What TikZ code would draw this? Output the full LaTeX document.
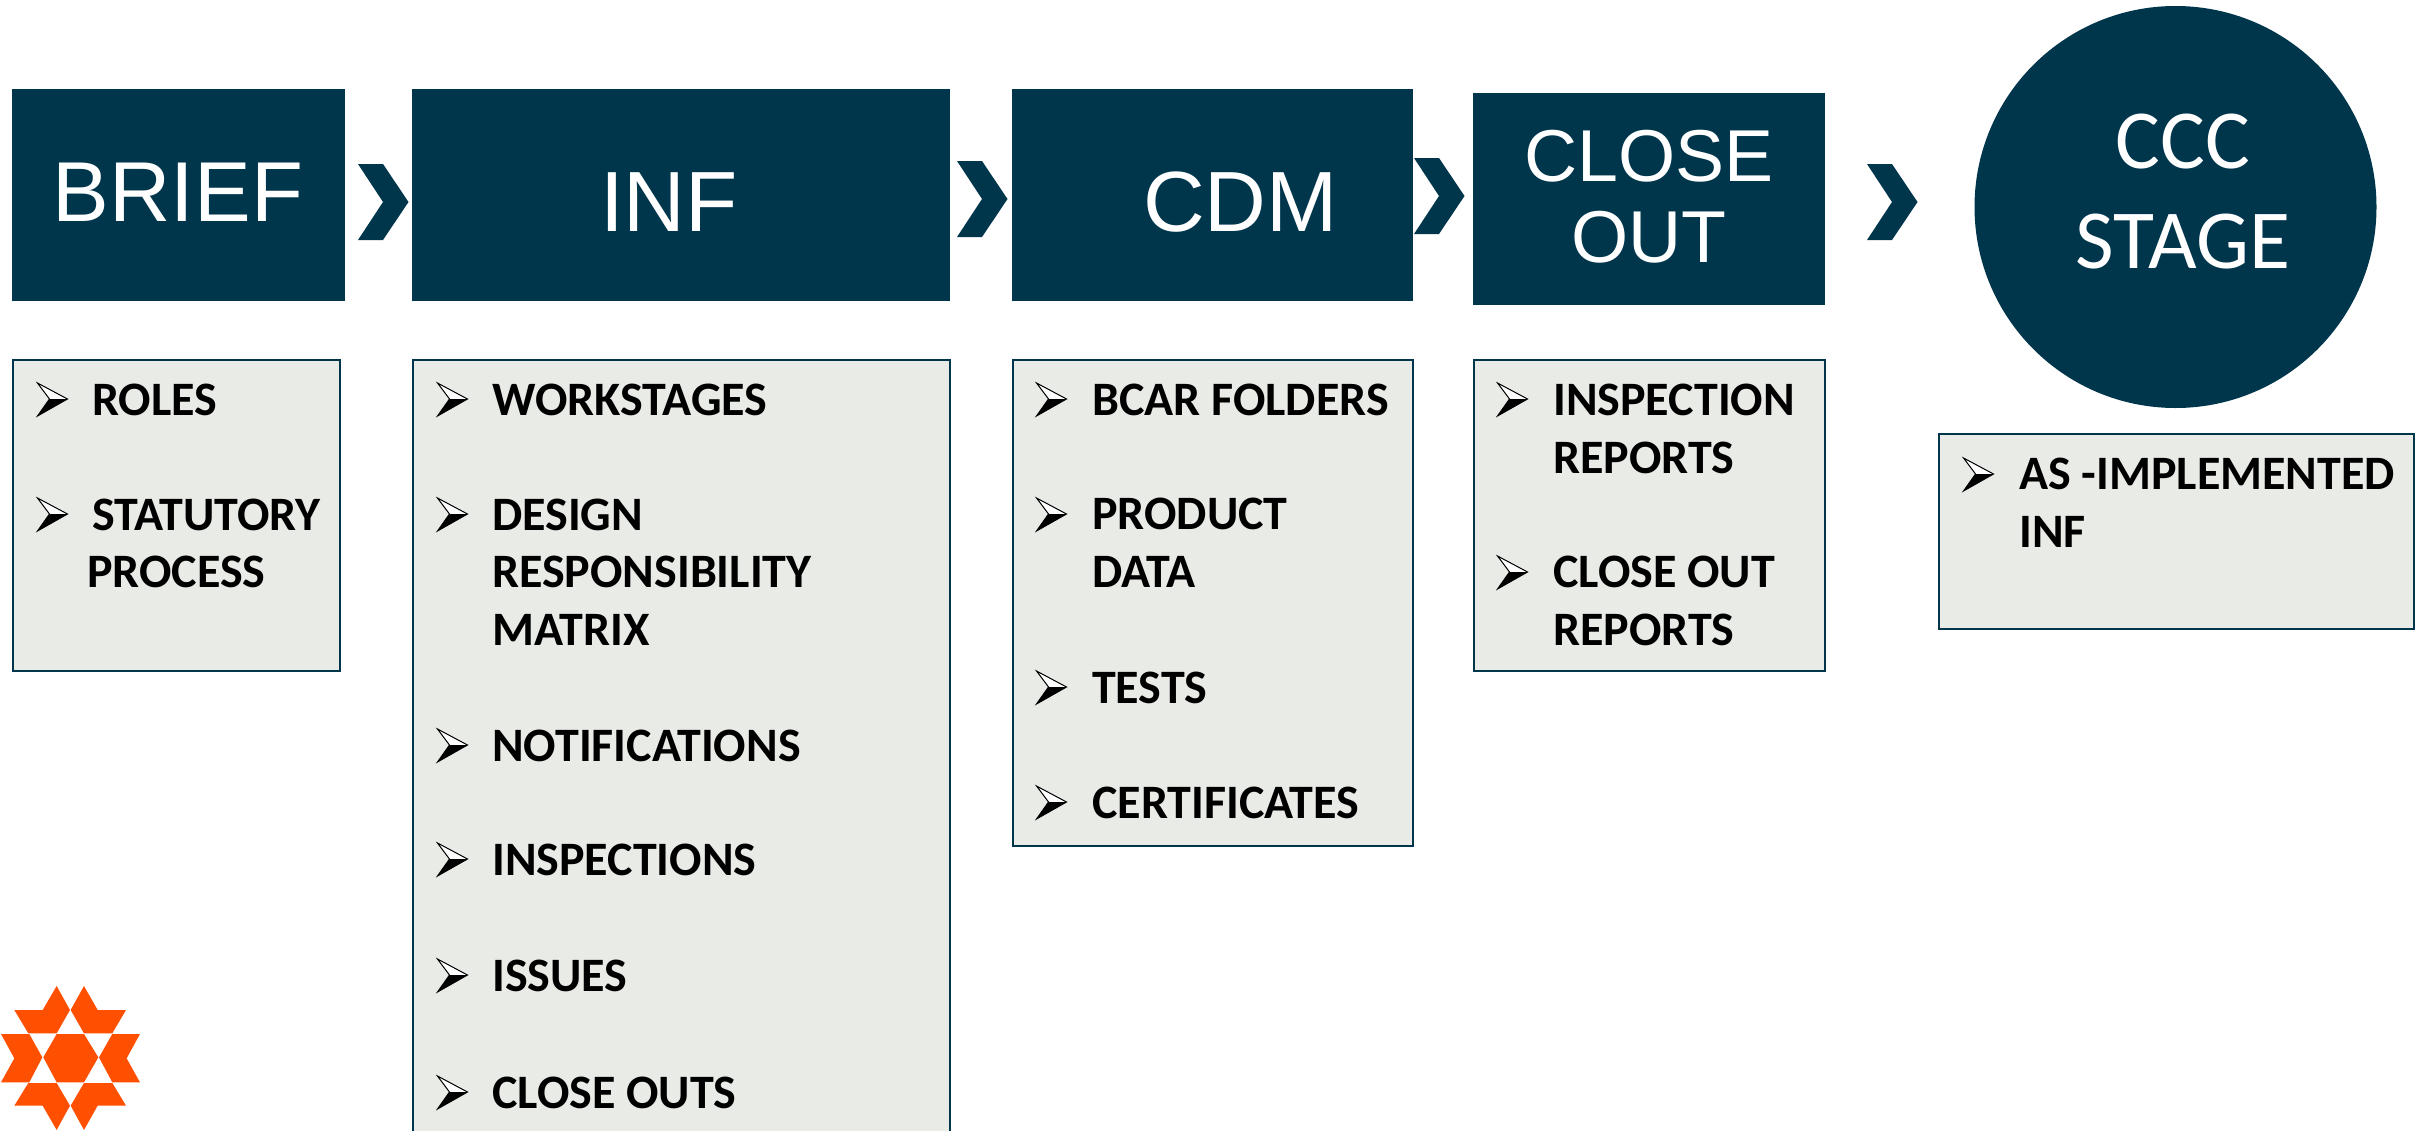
\documentclass[tikz,border=0pt]{standalone}
\usepackage{fontspec}
\setmainfont{Carlito}
\newfontfamily\headfont{Liberation Sans}
\definecolor{deep}{HTML}{00364C}
\definecolor{pale}{HTML}{E9EBE7}
\definecolor{logoorange}{HTML}{FF4F00}
\tikzset{
  x=1pt,y=-1pt,
  headbox/.style={fill=deep,draw=none,inner sep=0pt,anchor=north west,text=white,align=center},
  listbox/.style={fill=pale,draw=deep,line width=2pt,inner sep=0pt,anchor=north west},
  item/.style={anchor=base west,inner sep=0pt,yshift=-1.6pt,align=left,text=black,font=\fontsize{48}{57.7}\selectfont\bfseries},
  headtext/.style={inner sep=0pt,text=white,align=center,font=\headfont\fontsize{#1}{#1}\selectfont},
  circletext/.style={inner sep=0pt,anchor=base,text=white,font=\fontsize{84}{84}\selectfont},
  bullet/.pic={
    \begin{scope}[shift={(1.5,1)}]
    \fill[white] (0,-16) -- (30,0) -- (12,0) -- cycle;
    \fill[black] (0,17) -- (30,0) -- (12,0) -- cycle;
    \draw[black,line width=1pt,line join=miter] (0,-16) -- (30,0) -- (0,17) -- (12,0) -- cycle;
    \end{scope}
  },
  chev/.pic={
    \fill[deep] (0,-38) -- (25,-38) -- (50.5,0) -- (25,38) -- (0,38) -- (25,0) -- cycle;
  }
}
\begin{document}
\begin{tikzpicture}
\clip (0,0) rectangle (2428,1130);
\fill[white] (0,0) rectangle (2428,1130);
% heading boxes
\node[headbox,minimum width=333pt,minimum height=212.5pt] (brief) at (12,88.5) {};
\node[headbox,minimum width=538pt,minimum height=212.5pt] (inf) at (412,88.5) {};
\node[headbox,minimum width=401pt,minimum height=212.5pt] (cdm) at (1012,88.5) {};
\node[headbox,minimum width=352pt,minimum height=212pt] (closeout) at (1473,93) {};
\node[circle,fill=deep,inner sep=0pt,minimum size=402pt] (ccc) at (2175.5,207) {};
\node[headtext=85] (briefT) at (178,192) {BRIEF};
\node[headtext=85.5] (infT) at (669,202) {INF};
\node[headtext=85.5] (cdmT) at (1240.5,202) {CDM};
\node[headtext=73.5,anchor=base] (closeT1) at (1649,181) {CLOSE};
\node[headtext=73.5,anchor=base] (closeT2) at (1649,262) {OUT};
\node[circletext] (cccT1) at (2183,168) {CCC};
\node[circletext] (cccT2) at (2183,268) {STAGE};
% chevrons
\pic at (358,202) {chev};
\pic at (957,199) {chev};
\pic at (1414,196) {chev};
\pic at (1867,202) {chev};
% list boxes
\node[listbox,minimum width=327pt,minimum height=311pt] (briefL) at (12,359) {};
\node[listbox,minimum width=537pt,minimum height=800pt] (infL) at (412,359) {};
\node[listbox,minimum width=400pt,minimum height=486pt] (cdmL) at (1012,359) {};
\node[listbox,minimum width=351pt,minimum height=311pt] (closeL) at (1473,359) {};
\node[listbox,minimum width=475pt,minimum height=195pt] (cccL) at (1938,433) {};
% brief
\pic at (36,398) {bullet};
\node[item] (b1) at (92,414) {ROLES};
\pic at (36,513) {bullet};
\node[item] (b2) at (92,529) {STATUTORY};
\node[item] (b3) at (87,586) {PROCESS};
% inf
\pic at (436,398) {bullet};
\node[item] (i1) at (492,414) {WORKSTAGES};
\pic at (436,513) {bullet};
\node[item] (i2) at (492,644) {DESIGN\\RESPONSIBILITY\\MATRIX};
\pic at (436,744) {bullet};
\node[item] (i3) at (492,760) {NOTIFICATIONS};
\pic at (436,858) {bullet};
\node[item] (i4) at (492,874) {INSPECTIONS};
\pic at (436,974) {bullet};
\node[item] (i5) at (492,990) {ISSUES};
\pic at (436,1091) {bullet};
\node[item] (i6) at (492,1107) {CLOSE OUTS};
% cdm
\pic at (1035,398) {bullet};
\node[item] (c1) at (1092,414) {BCAR FOLDERS};
\pic at (1035,513) {bullet};
\node[item] (c2) at (1092,586) {PRODUCT\\DATA};
\pic at (1035,686) {bullet};
\node[item] (c3) at (1092,702) {TESTS};
\pic at (1035,801) {bullet};
\node[item] (c4) at (1092,817) {CERTIFICATES};
% close out
\pic at (1496,398) {bullet};
\node[item] (o1) at (1553,472) {INSPECTION\\REPORTS};
\pic at (1496,571) {bullet};
\node[item] (o2) at (1553,644) {CLOSE OUT\\REPORTS};
% ccc
\pic at (1962,473) {bullet};
\node[item] (s1) at (2019,546) {AS -IMPLEMENTED\\INF};
% logo
\begin{scope}[shift={(0,960)},x=0.3333pt,y=-0.3333pt]
\fill[logoorange] (170,78) -- (210,150) -- (170,220) -- (85,220) -- (43,150) -- (128,150) -- cycle;
\fill[logoorange] (252,78) -- (293,150) -- (378,150) -- (337,220) -- (252,220) -- (212,150) -- cycle;
\fill[logoorange] (3,222) -- (88,222) -- (127,292) -- (88,367) -- (3,367) -- (43,295) -- cycle;
\fill[logoorange] (337,222) -- (420,222) -- (380,295) -- (420,367) -- (337,367) -- (297,292) -- cycle;
\fill[logoorange] (170,222) -- (252,222) -- (295,292) -- (252,367) -- (170,367) -- (130,292) -- cycle;
\fill[logoorange] (85,369) -- (170,369) -- (210,437) -- (170,510) -- (128,437) -- (43,437) -- cycle;
\fill[logoorange] (252,369) -- (337,369) -- (378,437) -- (293,437) -- (252,510) -- (212,437) -- cycle;
\end{scope}
\end{tikzpicture}
\end{document}
